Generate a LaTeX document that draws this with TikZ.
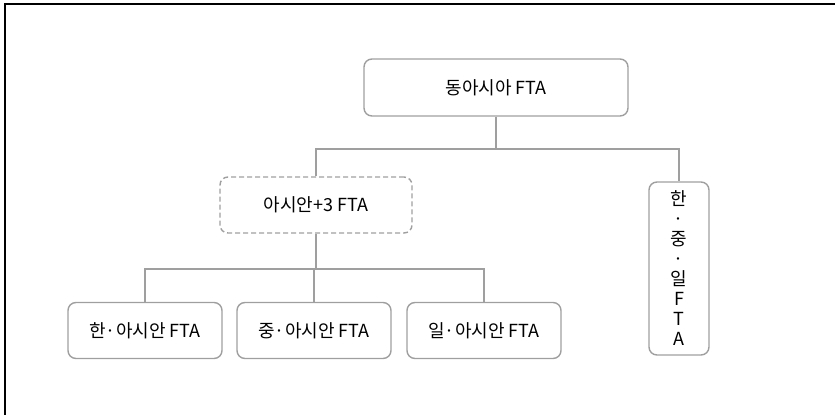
\documentclass[tikz,border=0pt]{standalone}
\usepackage{fontspec}
\setmainfont{Noto Sans CJK KR}
\tikzset{
  fta/.style={draw=gray!75, line width=1.4pt, rounded corners=8pt, align=center,
    inner sep=0pt, font=\fontsize{18}{20}\selectfont},
  ftadash/.style={fta, dashed, dash pattern=on 5pt off 3pt},
  tie/.style={draw=gray!75, line width=1.4pt}
}
\begin{document}
\begin{tikzpicture}[x=1pt, y=-1pt]
  %% Canvas of the picture.
  \useasboundingbox (0,0) rectangle (835,415);
  %% Only the top and left edges of the frame show.
  \draw[line width=1.4pt] (835,4) -- (5,4) -- (5,415);

  %% Height of the boxes on the lower row.
  \def\boxh{56}

  %% The boxes.
  \node[fta, minimum width=264, minimum height=57] (east) at (496,87.5) {동아시아 FTA};
  \node[ftadash, minimum width=192, minimum height=\boxh] (plus) at (316,205) {아시안+3 FTA};
  \node[fta, minimum width=60, minimum height=173] (kcj) at (679,268.5)
    {한\\·\\중\\·\\일\\F\\T\\A};
  \node[fta, minimum width=154, minimum height=\boxh] (kor) at (145,330.5) {한·아시안 FTA};
  \node[fta, minimum width=154, minimum height=\boxh] (chn) at (314,330.5) {중·아시안 FTA};
  \node[fta, minimum width=154, minimum height=\boxh] (jpn) at (484,330.5) {일·아시안 FTA};

  %% Bus heights.
  \coordinate (upper) at (0,149);
  \coordinate (lower) at (0,269);

  %% Upper tree.
  \draw[tie] (east.south) -- (east.south |- upper);
  \draw[tie] (plus.north) -- (plus.north |- upper) -- (kcj.north |- upper) -- (kcj.north);

  %% Lower tree.
  \draw[tie] (plus.south) -- (plus.south |- lower);
  \draw[tie] (kor.north) -- (kor.north |- lower) -- (jpn.north |- lower) -- (jpn.north);
  \draw[tie] (chn.north) -- (chn.north |- lower);
\end{tikzpicture}
\end{document}
